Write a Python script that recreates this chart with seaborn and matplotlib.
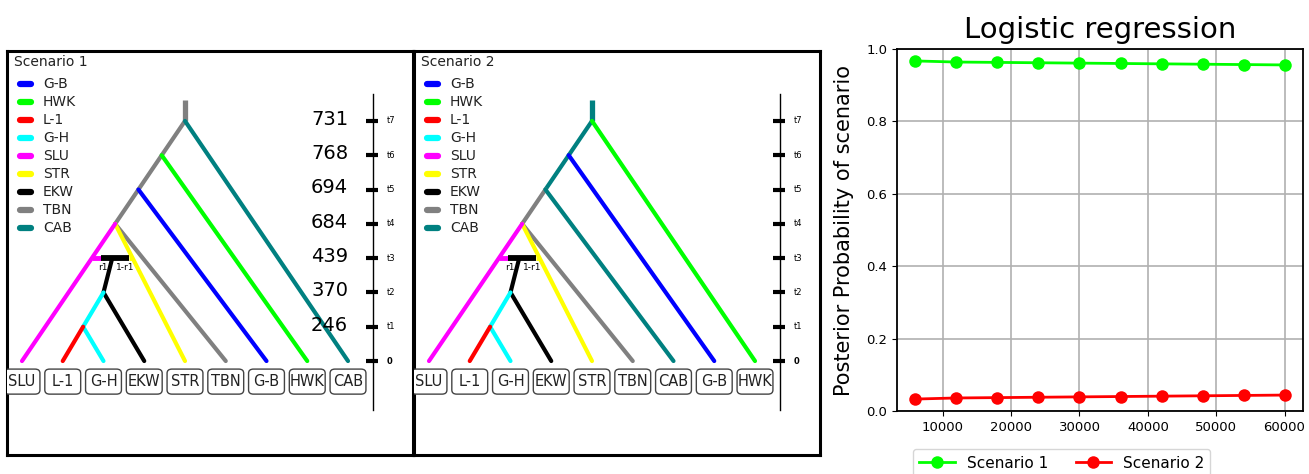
import matplotlib
matplotlib.use("Agg")
import matplotlib.pyplot as plt
from matplotlib.patches import FancyBboxPatch
import pandas as pd
import seaborn as sns

# ---- data -------------------------------------------------------------
pop_names = ['G-B', 'HWK', 'L-1', 'G-H', 'SLU', 'STR', 'EKW', 'TBN', 'CAB']
pop_colors = ['#0000ff', '#00ff00', '#ff0000', '#00ffff', '#ff00ff',
              '#ffff00', '#000000', '#808080', '#008080']

time_labels = ['0', 't1', 't2', 't3', 't4', 't5', 't6', 't7']
s1_time_values = [246, 370, 439, 684, 694, 768, 731]  # t1..t7

# scenario 1
s1_leaves = ['SLU', 'L-1', 'G-H', 'EKW', 'STR', 'TBN', 'G-B', 'HWK', 'CAB']
s1_split_pops = ['CAB', 'HWK', 'G-B', 'TBN', 'STR', 'SLU']
s1_split_levels = [7, 6, 5, 4, 4, 4]
s1_spine = ['TBN', 'TBN', 'TBN']      # left lineage colour t7-t6, t6-t5, t5-t4

# scenario 2
s2_leaves = ['SLU', 'L-1', 'G-H', 'EKW', 'STR', 'TBN', 'CAB', 'G-B', 'HWK']
s2_split_pops = ['HWK', 'G-B', 'CAB', 'TBN', 'STR', 'SLU']
s2_split_levels = [7, 6, 5, 4, 4, 4]
s2_spine = ['CAB', 'CAB', 'TBN']

# logistic regression
n_sims = [6000, 12000, 18000, 24000, 30000, 36000, 42000, 48000, 54000, 60000]
prob_s1 = [0.967, 0.964, 0.963, 0.962, 0.961, 0.960, 0.959, 0.958, 0.957, 0.956]
prob_s2 = [0.033, 0.036, 0.037, 0.038, 0.039, 0.040, 0.041, 0.042, 0.043, 0.044]

col = dict(zip(pop_names, pop_colors))

W, H = 1309, 474
fig = plt.figure(figsize=(W / 100, H / 100), dpi=100)
plt.rcParams['font.family'] = ['DejaVu Sans']

ROOT_LEVEL = 7
ROOT_X = 4.0
LW = 3.0


def draw_scenario(ax, title, leaves, split_pops, split_levels, spine, show_values):
    lx = {p: i for i, p in enumerate(leaves)}

    def edge_x(level):
        return ROOT_X * level / ROOT_LEVEL

    kw = dict(lw=LW, solid_capstyle='round', zorder=3)
    # stub above the root
    ax.plot([ROOT_X, ROOT_X], [ROOT_LEVEL, ROOT_LEVEL + 0.6], color=col[spine[0]],
            lw=LW + 0.8, solid_capstyle='butt', zorder=3)
    # left lineage
    for k, p in enumerate(spine):
        l0 = ROOT_LEVEL - k
        ax.plot([edge_x(l0), edge_x(l0 - 1)], [l0, l0 - 1], color=col[p], **kw)
    # branches off the left lineage
    for p, lev in zip(split_pops, split_levels):
        ax.plot([edge_x(lev), lx[p]], [lev, 0], color=col[p], **kw)
    # admixture at t3 between SLU and STR -> EKW
    n4 = edge_x(4)
    xa = n4 + (lx['SLU'] - n4) / 4
    xb = n4 + (lx['STR'] - n4) / 4
    xm = (xa + xb) / 2
    ax.plot([xa, xa + 0.23], [3, 3], color=col['SLU'], lw=LW + 0.5, solid_capstyle='butt', zorder=4)
    ax.plot([xa + 0.23, xb - 0.1], [3, 3], color=col['EKW'], lw=LW + 1.2, solid_capstyle='butt', zorder=4)
    ax.plot([xb - 0.1, xb], [3, 3], color=col['STR'], lw=LW + 0.5, solid_capstyle='butt', zorder=4)
    ax.text(1.99, 2.72, 'r1', fontsize=6.5, ha='center', va='center')
    ax.text(2.53, 2.72, '1-r1', fontsize=6.5, ha='center', va='center')
    # EKW / G-H / L-1
    x2 = lx['G-H']
    x1 = (lx['L-1'] + lx['G-H']) / 2
    ax.plot([xm, x2, lx['EKW']], [3, 2, 0], color=col['EKW'], **kw)
    ax.plot([x2, x1, lx['G-H']], [2, 1, 0], color=col['G-H'], **kw)
    ax.plot([x1, lx['L-1']], [1, 0], color=col['L-1'], **kw)

    # leaf boxes
    for p in leaves:
        ax.add_patch(FancyBboxPatch((lx[p] - 0.44, -0.6 - 0.365), 0.88, 0.73,
                                    boxstyle='round,pad=0,rounding_size=0.12',
                                    fc='white', ec='#444444', lw=1.0, zorder=5))
        ax.text(lx[p], -0.6, p, fontsize=10.5, ha='center', va='center', zorder=6,
                color='#222222')

    # time axis
    ax.plot([8.61, 8.61], [-1.43, 7.78], color='black', lw=1.0)
    for k, lab in enumerate(time_labels):
        ax.plot([8.44, 8.74], [k, k], color='black', lw=3, solid_capstyle='butt')
        ax.text(8.95, k, lab, fontsize=6, ha='left', va='center',
                fontweight='bold' if k == 0 else 'normal')
        if show_values and k > 0:
            ax.text(8.0, k + 0.05, str(s1_time_values[k - 1]), fontsize=14,
                    ha='right', va='center')

    # legend
    ax.text(-0.2, 8.72, title, fontsize=10, ha='left', va='center', color='#222222')
    for i, p in enumerate(pop_names):
        y = 8.08 - 0.525 * i
        ax.plot([-0.06, 0.23], [y, y], color=col[p], lw=4.5, solid_capstyle='round')
        ax.text(0.515, y, p, fontsize=10, ha='left', va='center', color='#222222')

    ax.set_xlim(-0.368, 9.595)
    ax.set_ylim(-2.74, 9.04)
    ax.set_xticks([])
    ax.set_yticks([])
    for s in ax.spines.values():
        s.set_linewidth(2.2)
        s.set_color('black')


ax1 = fig.add_axes([7 / W, (H - 455) / H, 406 / W, 404 / H])
draw_scenario(ax1, 'Scenario 1', s1_leaves, s1_split_pops, s1_split_levels, s1_spine, True)
ax2 = fig.add_axes([414 / W, (H - 455) / H, 406 / W, 404 / H])
draw_scenario(ax2, 'Scenario 2', s2_leaves, s2_split_pops, s2_split_levels, s2_spine, False)

# ---- logistic regression --------------------------------------------
df = pd.DataFrame({
    'n': n_sims * 2,
    'p': prob_s1 + prob_s2,
    'scenario': ['Scenario 1'] * len(n_sims) + ['Scenario 2'] * len(n_sims),
})
ax3 = fig.add_axes([897 / W, (H - 411) / H, 406 / W, 362 / H])
sns.lineplot(data=df, x='n', y='p', hue='scenario', palette=['#00ff00', '#ff0000'],
             marker='o', markersize=9, markeredgewidth=0, linewidth=2, ax=ax3)
ax3.set_ylim(0, 1.0)
ax3.margins(x=0.05)
ax3.set_xticks([10000, 20000, 30000, 40000, 50000, 60000])
ax3.set_yticks([0.0, 0.2, 0.4, 0.6, 0.8, 1.0])
ax3.grid(True, color='#b0b0b0', lw=1.2)
ax3.set_axisbelow(True)
ax3.tick_params(labelsize=9.5)
for s in ax3.spines.values():
    s.set_linewidth(1.3)
ax3.set_xlabel('')
ax3.set_ylabel('Posterior Probability of scenario', fontsize=15)
ax3.yaxis.set_label_coords(-0.105, 0.5)
ax3.set_title('Logistic regression', fontsize=21, pad=8)
ax3.legend(loc='upper center', bbox_to_anchor=(0.406, -0.085), ncol=2, fontsize=11,
           handlelength=2.3, columnspacing=1.8, frameon=True, fancybox=True,
           edgecolor='#cccccc')

fig.savefig('out.png', dpi=100)
